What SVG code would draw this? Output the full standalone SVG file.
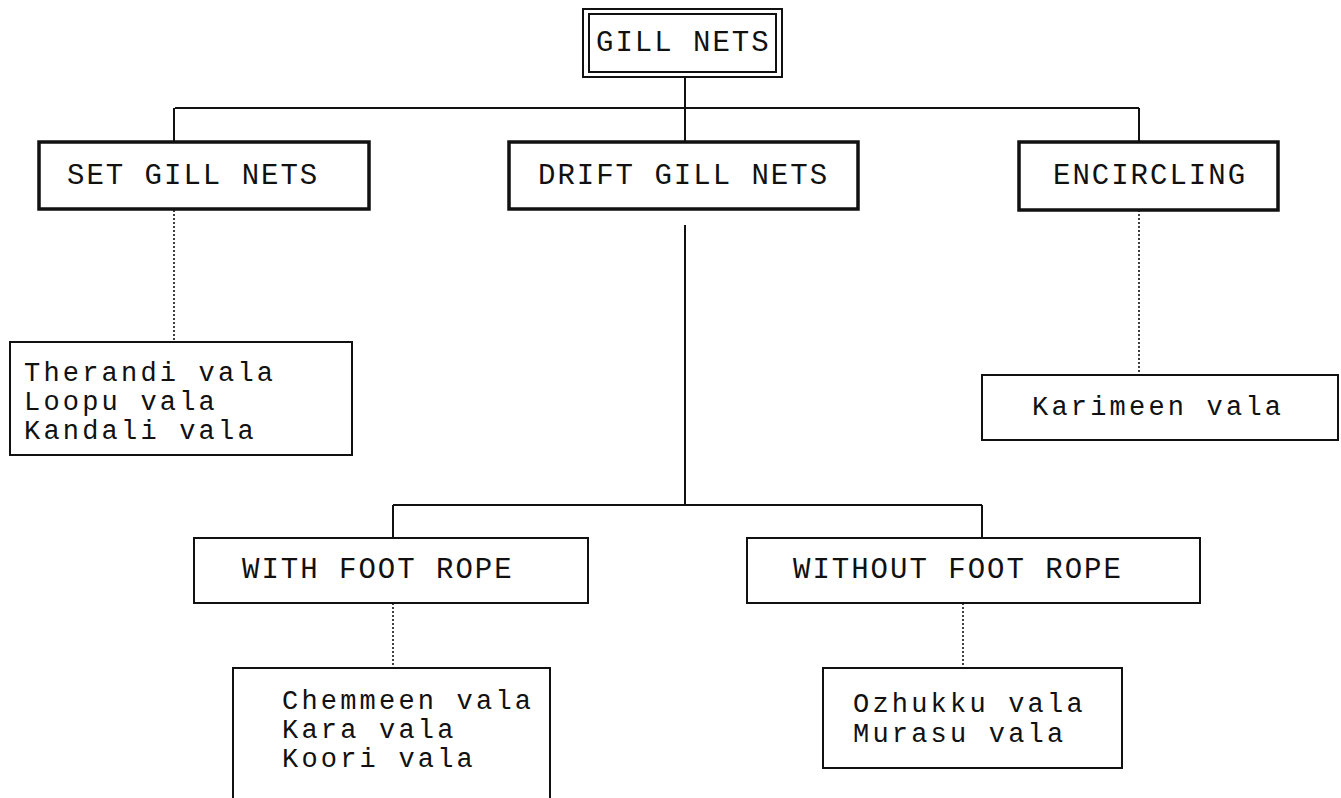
<svg xmlns="http://www.w3.org/2000/svg" width="1341" height="798" viewBox="0 0 1341 798">
  <style>
    .bg { fill: #ffffff; }
    .box { fill: #ffffff; stroke: #111; stroke-width: 2; }
    .heavy { fill: #ffffff; stroke: #111; stroke-width: 3.5; }
    .line { fill: none; stroke: #111; stroke-width: 2; }
    .dot { fill: none; stroke: #111; stroke-width: 1.6; stroke-dasharray: 2 2; }
    text { font-family: "Liberation Mono", "Courier New", monospace; font-size: 29px; letter-spacing: 2px; fill: #111; }
    text.item { font-size: 27px; letter-spacing: 3.2px; }
  </style>

  <rect class="bg" x="0" y="0" width="1341" height="798"/>

  <!-- connectors -->
  <g id="connectors">
    <path class="line" d="M685,77 V108 M175,108 H1139 M174,108 V141 M685,108 V141 M1139,108 V142"/>
    <path class="line" d="M685,225 V505 M393,505 H982 M393,505 V538 M982,505 V538"/>
    <path class="dot" d="M174,210 V342"/>
    <path class="dot" d="M1139,210 V375"/>
    <path class="dot" d="M393,603 V668"/>
    <path class="dot" d="M963,603 V668"/>
  </g>

  <!-- root -->
  <g id="gill-nets">
    <rect class="box" x="583" y="9" width="199" height="68"/>
    <rect class="box" x="589" y="14" width="187" height="58"/>
    <text x="596" y="51">GILL NETS</text>
  </g>

  <!-- first level -->
  <g id="set-gill-nets">
    <rect class="heavy" x="39" y="142" width="330" height="67"/>
    <text x="67" y="184">SET GILL NETS</text>
  </g>
  <g id="drift-gill-nets">
    <rect class="heavy" x="509" y="142" width="349" height="67"/>
    <text x="538" y="184">DRIFT GILL NETS</text>
  </g>
  <g id="encircling">
    <rect class="heavy" x="1019" y="142" width="259" height="68"/>
    <text x="1053" y="184">ENCIRCLING</text>
  </g>

  <!-- local names -->
  <g id="set-gill-nets-types">
    <rect class="box" x="10" y="342" width="342" height="113"/>
    <text class="item" x="24" y="381">Therandi vala</text>
    <text class="item" x="24" y="410">Loopu vala</text>
    <text class="item" x="24" y="439">Kandali vala</text>
  </g>
  <g id="encircling-types">
    <rect class="box" x="982" y="375" width="356" height="65"/>
    <text class="item" x="1032" y="415">Karimeen vala</text>
  </g>

  <!-- drift gill net sub-classes -->
  <g id="with-foot-rope">
    <rect class="box" x="194" y="538" width="394" height="65"/>
    <text x="242" y="578">WITH FOOT ROPE</text>
  </g>
  <g id="without-foot-rope">
    <rect class="box" x="747" y="538" width="453" height="65"/>
    <text x="793" y="578">WITHOUT FOOT ROPE</text>
  </g>

  <g id="with-foot-rope-types">
    <path class="box" d="M233,800 V668 H550 V800"/>
    <text class="item" x="282" y="709">Chemmeen vala</text>
    <text class="item" x="282" y="738">Kara vala</text>
    <text class="item" x="282" y="767">Koori vala</text>
  </g>
  <g id="without-foot-rope-types">
    <rect class="box" x="823" y="668" width="299" height="100"/>
    <text class="item" x="853" y="712">Ozhukku vala</text>
    <text class="item" x="853" y="742">Murasu vala</text>
  </g>
</svg>
